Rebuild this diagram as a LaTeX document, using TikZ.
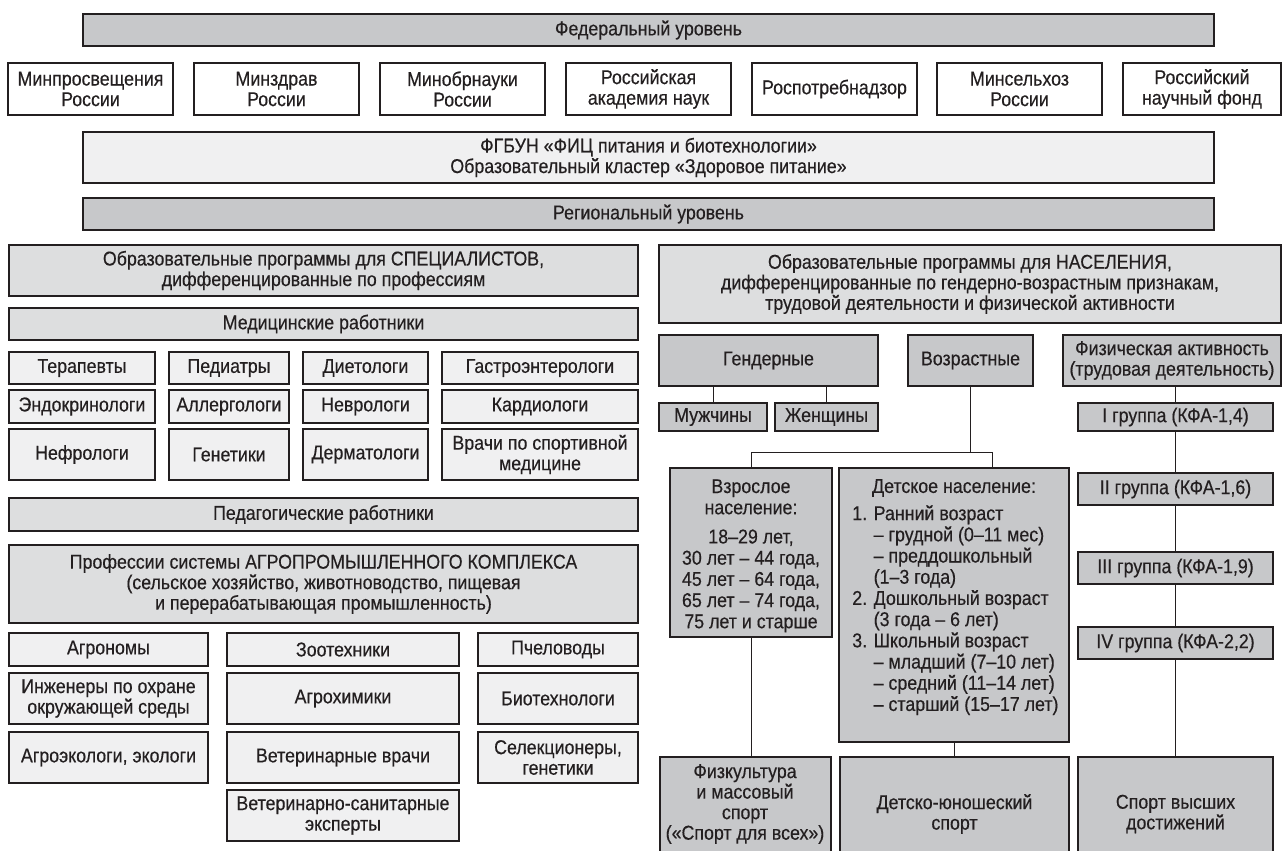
\documentclass[tikz,border=0pt]{standalone}
\usepackage{fontspec}
\setmainfont{Liberation Sans}[FakeStretch=0.89,FakeBold=0.35]
\definecolor{ink}{RGB}{35,31,32}
\definecolor{cDark}{RGB}{199,200,202}
\definecolor{cMid}{RGB}{221,222,223}
\definecolor{cLight}{RGB}{240,240,241}
\newcommand{\fsa}{\fontsize{15pt}{15.4pt}\selectfont}
\newcommand{\fsb}{\fontsize{15pt}{15.9pt}\selectfont}
\tikzset{
  box/.style={draw=ink, line width=1.2pt, inner sep=0pt, align=center, text=ink, font=\fsa},
  wbox/.style={box, fill=white},
  lbox/.style={box, fill=cLight},
  mbox/.style={box, fill=cMid},
  dbox/.style={box, fill=cDark},
  conn/.style={draw=ink, line width=0.7pt},
  txt/.style={inner sep=0pt, text=ink, align=center, font=\fsb}
}
\newcommand{\mybox}[7]{\node[#6, minimum width={(#4-#2)*0.75pt}, minimum height={(#5-#3)*0.75pt}] (#1) at ({(#2+#4)/2},{(#3+#5)/2}) {#7};}
\begin{document}
\begin{tikzpicture}[x=0.75pt,y=-0.75pt]
\useasboundingbox (0,0) rectangle (1282,850);
\clip (0,0) rectangle (1282,850);
% top level
\mybox{fed}{83}{14}{1214}{46}{dbox}{Федеральный уровень}
\mybox{m1}{8}{63}{173}{115}{wbox}{Минпросвещения\\России}
\mybox{m2}{194}{63}{359}{115}{wbox}{Минздрав\\России}
\mybox{m3}{380}{63}{545}{115}{wbox}{Минобрнауки\\России}
\mybox{m4}{566}{63}{731}{115}{wbox}{Российская\\академия наук}
\mybox{m5}{752}{63}{917}{115}{wbox}{Роспотребнадзор}
\mybox{m6}{937}{63}{1102}{115}{wbox}{Минсельхоз\\России}
\mybox{m7}{1123}{63}{1281}{115}{wbox}{Российский\\научный фонд}
\mybox{fgb}{83}{132}{1214}{183}{lbox}{ФГБУН «ФИЦ питания и биотехнологии»\\Образовательный кластер «Здоровое питание»}
\mybox{reg}{83}{198}{1214}{230}{dbox}{Региональный уровень}
% left column
\mybox{spec}{9}{245}{638}{296}{mbox}{Образовательные программы для СПЕЦИАЛИСТОВ,\\дифференцированные по профессиям}
\mybox{med}{9}{308}{638}{340}{mbox}{Медицинские работники}
\mybox{t11}{9}{352}{155}{384}{lbox}{Терапевты}
\mybox{t12}{169}{352}{289}{384}{lbox}{Педиатры}
\mybox{t13}{303}{352}{428}{384}{lbox}{Диетологи}
\mybox{t14}{442}{352}{638}{384}{lbox}{Гастроэнтерологи}
\mybox{t21}{9}{390}{155}{423}{lbox}{Эндокринологи}
\mybox{t22}{169}{390}{289}{423}{lbox}{Аллергологи}
\mybox{t23}{303}{390}{428}{423}{lbox}{Неврологи}
\mybox{t24}{442}{390}{638}{423}{lbox}{Кардиологи}
\mybox{t31}{9}{429}{155}{480}{lbox}{Нефрологи}
\mybox{t32}{169}{429}{289}{480}{lbox}{Генетики}
\mybox{t33}{303}{429}{428}{480}{lbox}{Дерматологи}
\mybox{t34}{442}{429}{638}{480}{lbox}{Врачи по спортивной\\медицине}
\mybox{ped}{9}{498}{638}{531}{mbox}{Педагогические работники}
\mybox{prof}{9}{545}{638}{623}{mbox}{Профессии системы АГРОПРОМЫШЛЕННОГО КОМПЛЕКСА\\(сельское хозяйство, животноводство, пищевая\\и перерабатывающая промышленность)}
\mybox{a11}{9}{633}{208}{666}{lbox}{Агрономы}
\mybox{a12}{227}{633}{459}{666}{lbox}{Зоотехники}
\mybox{a13}{478}{633}{638}{666}{lbox}{Пчеловоды}
\mybox{a21}{9}{673}{208}{724}{lbox}{Инженеры по охране\\окружающей среды}
\mybox{a22}{227}{673}{459}{724}{lbox}{Агрохимики}
\mybox{a23}{478}{673}{638}{724}{lbox}{Биотехнологи}
\mybox{a31}{9}{732}{208}{783}{lbox}{Агроэкологи, экологи}
\mybox{a32}{227}{732}{459}{783}{lbox}{Ветеринарные врачи}
\mybox{a33}{478}{732}{638}{783}{lbox}{Селекционеры,\\генетики}
\mybox{a42}{227}{790}{459}{841}{lbox}{Ветеринарно-санитарные\\эксперты}
% right column
\mybox{nas}{659}{245}{1281}{323}{mbox}{Образовательные программы для НАСЕЛЕНИЯ,\\дифференцированные по гендерно-возрастным признакам,\\трудовой деятельности и физической активности}
\mybox{gen}{659}{335}{878}{386}{dbox}{Гендерные}
\mybox{voz}{908}{335}{1033}{386}{dbox}{Возрастные}
\mybox{fiz}{1063}{335}{1281}{386}{dbox}{Физическая активность\\(трудовая деятельность)}
\mybox{muz}{659}{403}{767}{431}{dbox}{Мужчины}
\mybox{zhe}{775}{403}{878}{431}{dbox}{Женщины}
\mybox{g1}{1078}{403}{1273}{431}{dbox}{I группа (КФА-1,4)}
\mybox{g2}{1078}{473}{1273}{505}{dbox}{II группа (КФА-1,6)}
\mybox{g3}{1078}{552}{1273}{584}{dbox}{III группа (КФА-1,9)}
\mybox{g4}{1078}{627}{1273}{659}{dbox}{IV группа (КФА-2,2)}
\mybox{vzr}{670}{468}{832}{637}{dbox}{}
\mybox{det}{839}{468}{1069}{742}{dbox}{}
\mybox{fk}{660}{757}{831}{870}{dbox}{}
\mybox{dy}{840}{757}{1069}{870}{dbox}{}
\mybox{sv}{1078}{757}{1273}{870}{dbox}{}
% texts in large boxes
\node[txt, anchor=north] (vzrT) at (751,479) {Взрослое\\население:\\[6pt]18–29 лет,\\30 лет – 44 года,\\45 лет – 64 года,\\65 лет – 74 года,\\75 лет и старше};
\node[txt] (detT) at (954,488) {Детское население:};
\node[txt, align=left, anchor=north west] (detL) at (852,505) {1. Ранний возраст\\
\phantom{1. }– грудной (0–11 мес)\\
\phantom{1. }– преддошкольный\\
\phantom{1. }(1–3 года)\\
2. Дошкольный возраст\\
\phantom{2. }(3 года – 6 лет)\\
3. Школьный возраст\\
\phantom{3. }– младший (7–10 лет)\\
\phantom{3. }– средний (11–14 лет)\\
\phantom{3. }– старший (15–17 лет)};
\node[txt, font=\fsa] (fkT) at (745,804) {Физкультура\\и массовый\\спорт\\(«Спорт для всех»)};
\node[txt, font=\fsa] (dyT) at (954.5,814) {Детско-юношеский\\спорт};
\node[txt, font=\fsa] (svT) at (1175.5,814) {Спорт высших\\достижений};
% connectors
\draw[conn] (muz.north) -- (muz.north |- gen.south);
\draw[conn] (zhe.north) -- (zhe.north |- gen.south);
\coordinate (vj) at (970.5,452);
\coordinate (vr) at (992,452);
\coordinate (vl) at (vzr.north |- vj);
\draw[conn] (voz.south) -- (vj);
\draw[conn] (vzr.north) -- (vl) -- (vr) -- (vr |- det.north);
\draw[conn] (g1.north) -- (g1.north |- fiz.south);
\draw[conn] (g1.south) -- (g2.north);
\draw[conn] (g2.south) -- (g3.north);
\draw[conn] (g3.south) -- (g4.north);
\draw[conn] (g4.south) -- (sv.north);
\draw[conn] (vzr.south) -- (vzr.south |- fk.north);
\draw[conn] (det.south) -- (det.south |- dy.north);
\end{tikzpicture}
\end{document}
